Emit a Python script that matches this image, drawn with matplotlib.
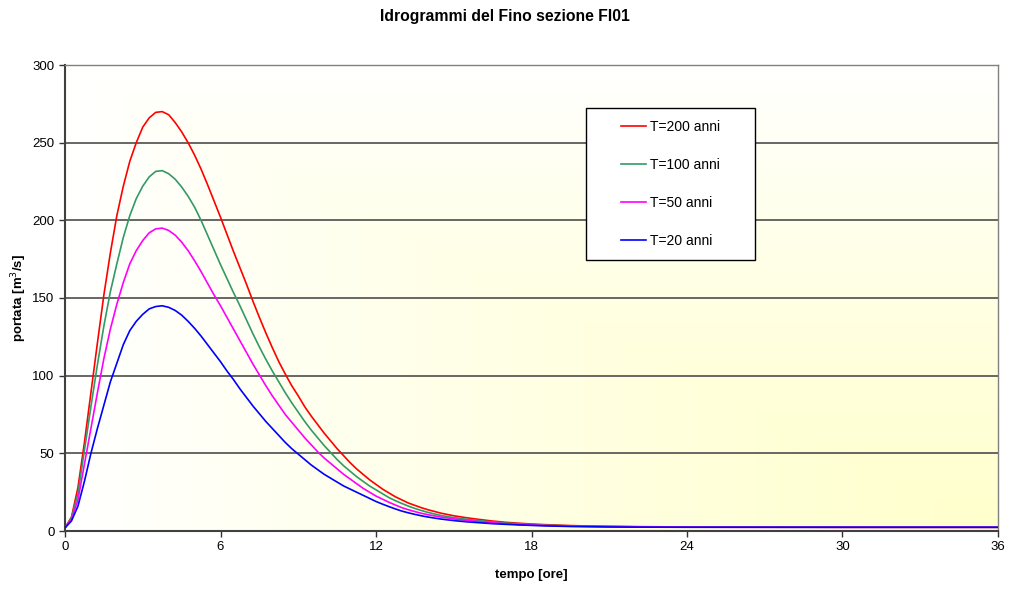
import numpy as np
import matplotlib
matplotlib.use("Agg")
import matplotlib.pyplot as plt
from matplotlib.colors import LinearSegmentedColormap
from matplotlib.patches import Rectangle

plt.rcParams['font.family'] = ['Liberation Sans', 'DejaVu Sans']

# time axis [ore]
tempo = [0, 0.25, 0.5, 0.75, 1.0, 1.25, 1.5, 1.75, 2.0, 2.25, 2.5, 2.75, 3.0, 3.25, 3.5, 3.75,
         4.0, 4.25, 4.5, 4.75, 5.0, 5.25, 5.5, 5.75, 6.0, 6.25, 6.5, 6.75, 7.0, 7.25, 7.5, 7.75,
         8.0, 8.25, 8.5, 8.75, 9.0, 9.25, 9.5, 9.75, 10.0, 10.25, 10.5, 10.75, 11.0, 11.25, 11.5, 11.75,
         12.0, 12.25, 12.5, 12.75, 13.0, 13.25, 13.5, 13.75, 14.0,
         14.5, 15.0, 15.5, 16.0, 16.5, 17.0, 17.5, 18.0, 18.5, 19.0, 19.5, 20.0,
         21, 22, 24, 26, 28, 30, 32, 34, 36]

q_T200 = [2, 9, 28, 57, 89, 121, 152, 179, 203, 222, 238, 250, 260, 266, 269.5, 270,
          268, 263, 257, 250, 242, 233, 223, 212.5, 202, 191, 180, 169.5, 159, 148, 137.5, 127.5,
          118, 109, 101, 93.5, 87, 80, 74, 68.5, 63, 58, 53, 48.5, 44, 40, 36.5, 33,
          30, 27, 24.5, 22, 20, 18, 16.5, 15, 13.7,
          11.5, 9.8, 8.5, 7.4, 6.4, 5.6, 5.0, 4.5, 4.1, 3.8, 3.5, 3.3,
          3.0, 2.8, 2.6, 2.5, 2.5, 2.4, 2.4, 2.4, 2.4]
q_T100 = [2, 8.5, 24, 52, 80, 107, 132, 154, 172, 189, 203, 214, 222, 228, 231.5, 232,
          230, 226.5, 221.5, 215.5, 208.5, 200, 190.5, 181, 171.5, 162.5, 153.5, 145, 136, 127, 118.5, 110.5,
          103, 96, 89, 82.5, 76.5, 70.5, 65, 60, 55, 50.5, 46, 42, 38.5, 35, 32, 29,
          26.5, 24, 21.5, 19.5, 17.7, 16, 14.5, 13.2, 12,
          10, 8.6, 7.5, 6.6, 5.8, 5.1, 4.6, 4.2, 3.8, 3.5, 3.3, 3.1,
          2.9, 2.7, 2.5, 2.5, 2.4, 2.4, 2.4, 2.4, 2.4]
q_T50 = [2, 7.5, 20, 43, 66, 89, 111, 130, 146, 160, 172, 180.5, 187, 192, 194.5, 195,
         193.5, 190.5, 186, 180.5, 174, 167, 159.5, 152, 145, 137.5, 130, 122.5, 115, 107.5, 100.5, 93.5,
         87, 81, 75, 70, 65, 60, 55.5, 51, 47, 43.5, 40, 36.5, 33.5, 30.5, 27.5, 25,
         22.5, 20.5, 18.5, 16.7, 15, 13.7, 12.5, 11.4, 10.5,
         9, 7.8, 6.8, 6.0, 5.3, 4.7, 4.2, 3.9, 3.6, 3.3, 3.1, 3.0,
         2.8, 2.7, 2.5, 2.4, 2.4, 2.4, 2.4, 2.4, 2.4]
q_T20 = [2, 6.5, 16, 32, 50, 66, 81, 96, 108, 120, 129, 135, 139.5, 143, 144.5, 145,
         144, 142, 139, 135, 130.5, 125.5, 120, 114.5, 109, 103, 97.5, 91.5, 86, 80.5, 75.5, 70.5,
         66, 61.5, 57, 53, 49.5, 46, 42.5, 39.5, 36.5, 34, 31.5, 29, 27, 25, 23, 21,
         19, 17.3, 15.7, 14.2, 12.8, 11.7, 10.7, 9.8, 9,
         7.7, 6.7, 5.9, 5.3, 4.7, 4.3, 3.9, 3.6, 3.3, 3.1, 2.9, 2.8,
         2.6, 2.5, 2.4, 2.4, 2.4, 2.4, 2.4, 2.4, 2.4]

series = [("T=200 anni", q_T200, "#FF0000"),
          ("T=100 anni", q_T100, "#339966"),
          ("T=50 anni", q_T50, "#FF00FF"),
          ("T=20 anni", q_T20, "#0000FF")]

x_ticks = [0, 6, 12, 18, 24, 30, 36]
y_ticks = [0, 50, 100, 150, 200, 250, 300]

fig = plt.figure(figsize=(10.1, 5.9), dpi=100)
ax = fig.add_axes([65/1010, 1-531/590, 933/1010, 466/590])

# gradient background (white -> pale yellow toward bottom-right)
nx, ny = 300, 200
u = np.linspace(0, 1, nx)[None, :]
v = np.linspace(0, 1, ny)[:, None]  # 0 top, 1 bottom
f = np.clip(1 - np.maximum(1 - u, 1 - v), 0, 1)
f = f ** 0.9
cmap = LinearSegmentedColormap.from_list("bg", ["#FFFFFF", "#FFFFCC"])
ax.imshow(f, cmap=cmap, vmin=0, vmax=1, extent=[0, 36, 0, 300], aspect='auto',
          origin='upper', zorder=0, interpolation='bilinear')

for yv in y_ticks[1:]:
    ax.axhline(yv, color="#5a5a5a", lw=1.3, zorder=1)

for label, q, c in series:
    ax.plot(tempo, q, color=c, lw=1.2, label=label, zorder=3)

ax.set_xlim(0, 36)
ax.set_ylim(0, 300)
ax.set_xticks(x_ticks)
ax.set_yticks(y_ticks)
ax.tick_params(axis='both', labelsize=9.5, length=4, width=1, color="#333333", direction='out')
for s in ax.spines.values():
    s.set_color("#808080")
    s.set_linewidth(1.0)
ax.spines['left'].set_color("#404040")
ax.spines['left'].set_linewidth(1.5)
ax.spines['bottom'].set_color("#404040")
ax.spines['bottom'].set_linewidth(1.5)

ax.set_xlabel("tempo [ore]", fontsize=9.5, fontweight='bold', va='center')
ax.set_ylabel("portata [m$^3$/s]", fontsize=9.5, fontweight='bold', va='center', ha='center')
ax.xaxis.set_label_coords(0.5, -(575 - 531) / 466)
ax.yaxis.set_label_coords(-(65 - 19) / 933, 0.5)
fig.text(0.5, 1 - 17 / 590, "Idrogrammi del Fino sezione FI01", fontsize=11.3,
         fontweight='bold', ha='center', va='center')

# legend box
bx0, bx1 = (586 - 65) / 933, (755 - 65) / 933
by1, by0 = (531 - 108) / 466, (531 - 260) / 466
ax.add_patch(Rectangle((bx0, by0), bx1 - bx0, by1 - by0, transform=ax.transAxes,
                       facecolor='white', edgecolor='black', lw=1.0, zorder=5))
leg = ax.legend(loc='center', bbox_to_anchor=((bx0 + bx1) / 2, (by0 + by1) / 2), fontsize=10,
                frameon=False, labelspacing=1.73, handlelength=1.8, handletextpad=0.3,
                borderpad=0, borderaxespad=0)
leg.set_zorder(6)

fig.savefig("out.png", dpi=100)
